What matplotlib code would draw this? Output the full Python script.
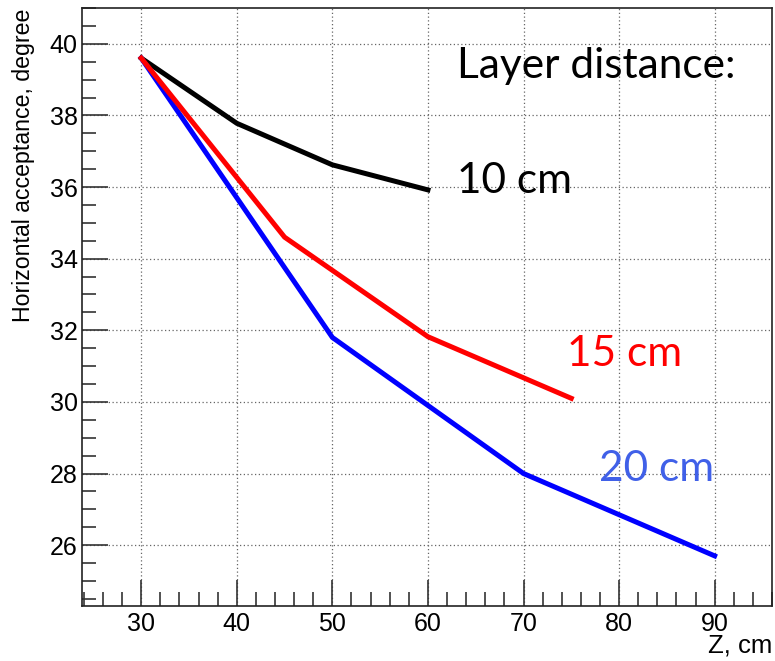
import matplotlib
matplotlib.use('Agg')
import matplotlib.pyplot as plt
from matplotlib.ticker import MultipleLocator

# Data
z_10 = [30, 40, 50, 60]
acc_10 = [39.6, 37.78, 36.62, 35.92]

z_15 = [30, 45, 60, 75]
acc_15 = [39.6, 34.6, 31.82, 30.1]

z_20 = [30, 50, 70, 90]
acc_20 = [39.6, 31.8, 28.0, 25.7]

plt.rcParams['font.family'] = ['Liberation Sans', 'DejaVu Sans']

fig = plt.figure(figsize=(7.75, 6.61), dpi=100)
ax = fig.add_axes([0.1058, 0.0832, 0.8903, 0.9047])

ax.plot(z_10, acc_10, color='black', lw=3.6, solid_joinstyle='miter')
ax.plot(z_20, acc_20, color='#0000ff', lw=3.6, solid_joinstyle='miter')
ax.plot(z_15, acc_15, color='#ff0000', lw=3.6, solid_joinstyle='miter')

ax.set_xlim(23.8, 96.0)
ax.set_ylim(24.3, 41.0)

ax.xaxis.set_major_locator(MultipleLocator(10))
ax.xaxis.set_minor_locator(MultipleLocator(2))
ax.yaxis.set_major_locator(MultipleLocator(2))
ax.yaxis.set_minor_locator(MultipleLocator(0.5))

ax.tick_params(which='both', direction='in', top=False, right=False,
               labelsize=18, color='#333333')
ax.tick_params(which='major', length=19, width=1.2)
ax.tick_params(which='minor', length=10, width=1.2)
ax.tick_params(axis='y', pad=3)
ax.tick_params(axis='x', pad=4)

ax.grid(True, which='major', linestyle=(0, (1, 2)), color='#666666', lw=0.9)
ax.set_axisbelow(True)
for s in ax.spines.values():
    s.set_color('#222222')
    s.set_linewidth(1.2)

ax.set_ylabel('Horizontal acceptance, degree', fontsize=16.7)
ax.yaxis.set_label_coords(-0.068, 0.737)
ax.set_xlabel('Z, cm', fontsize=18.5)
ax.xaxis.set_label_coords(1.0, -0.046)
ax.xaxis.label.set_horizontalalignment('right')

calibri = ['Lato', 'DejaVu Sans']
ax.text(0.543, 0.8824, 'Layer distance:', transform=ax.transAxes, fontsize=30.5,
        family=calibri, va='baseline', ha='left', color='black')
ax.text(0.543, 0.690, '10 cm', transform=ax.transAxes, fontsize=30.5,
        family=calibri, va='baseline', ha='left', color='black')
ax.text(0.703, 0.4018, '15 cm', transform=ax.transAxes, fontsize=30.5,
        family=calibri, va='baseline', ha='left', color='#ff0000')
ax.text(0.749, 0.209, '20 cm', transform=ax.transAxes, fontsize=30.5,
        family=calibri, va='baseline', ha='left', color='#4060e8')

fig.savefig('out.png', dpi=100)
